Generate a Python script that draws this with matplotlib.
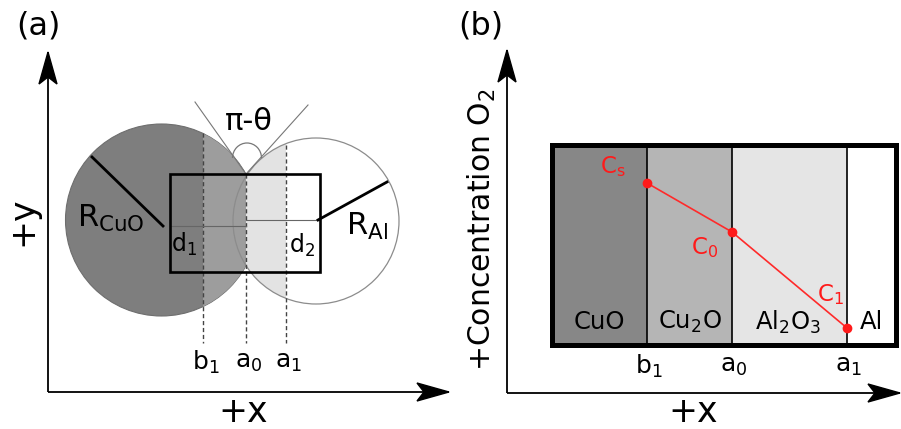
import numpy as np
import matplotlib
matplotlib.use("Agg")
import matplotlib.pyplot as plt
from matplotlib.patches import Circle, Rectangle, Polygon, Arc

plt.rcParams['font.family'] = ['DejaVu Sans']
plt.rcParams['mathtext.default'] = 'regular'

# layer names and their positions (figure pixels)
layers = ['CuO', 'Cu$_2$O', 'Al$_2$O$_3$', 'Al']
layer_colors = ['#878787', '#b5b5b5', '#e5e5e5', '#ffffff']
bounds = ['b$_1$', 'a$_0$', 'a$_1$']
bounds_a = [203, 246, 286]
bounds_b = [647, 732, 847]
conc_b = [183, 232, 328]          # oxygen concentration points (pixel y)
conc_labels = ['C$_s$', 'C$_0$', 'C$_1$']

# particle geometry, panel (a)
cuo_c, cuo_r = (161.5, 220), 96
al_c, al_r = (316, 221), 83
box_a = (170, 174, 320, 272)
box_b = (552, 145, 896, 345)

fig = plt.figure(figsize=(9.01, 4.29), dpi=100)
ax = fig.add_axes([0, 0, 1, 1])
ax.set_xlim(0, 901)
ax.set_ylim(429, 0)
ax.axis('off')


def arrow(x0, y0, x1, y1):
    # axis line with a stealth style head
    ax.plot([x0, x1], [y0, y1], color='black', lw=1.3, solid_capstyle='butt', zorder=5)
    d = np.array([x1 - x0, y1 - y0], float)
    d /= np.hypot(*d)
    n = np.array([-d[1], d[0]])
    tip = np.array([x1, y1])
    base = tip - 32 * d
    pts = [tip, base + 9 * n, tip - 25 * d, base - 9 * n]
    ax.add_patch(Polygon(pts, closed=True, color='black', zorder=6))


# ---------------- panel (a) ----------------
arrow(48, 392, 48, 52)
arrow(48, 392, 449, 392)
ax.text(38, 26, '(a)', fontsize=23, ha='center', va='center')
ax.text(22, 221, '+y', fontsize=25, ha='center', va='center', rotation=90)
ax.text(243, 412, '+x', fontsize=25, ha='center', va='center')

cuo = Circle(cuo_c, cuo_r, facecolor='#7e7e7e', edgecolor='#6e6e6e', lw=0.8, zorder=1)
ax.add_patch(cuo)
al_clip = Circle(al_c, al_r, facecolor='none', edgecolor='none')
ax.add_patch(al_clip)

cu2o = Rectangle((bounds_a[0], 0), bounds_a[1] - bounds_a[0], 429,
                 facecolor='#9d9d9d', edgecolor='none', zorder=2)
ax.add_patch(cu2o)
cu2o.set_clip_path(cuo)
al2o3 = Rectangle((bounds_a[1], 0), bounds_a[2] - bounds_a[1], 429,
                  facecolor='#e3e3e3', edgecolor='none', zorder=2)
ax.add_patch(al2o3)
al2o3.set_clip_path(al_clip)
ax.add_patch(Circle(al_c, al_r, facecolor='none', edgecolor='#8c8c8c', lw=0.9, zorder=3))

# contact angle construction
ax.plot([246, 195], [174, 102], color='#777777', lw=0.8, zorder=3)
ax.plot([246, 308], [174, 105], color='#777777', lw=0.8, zorder=3)
ax.add_patch(Arc((247, 158), 29, 30, theta1=180, theta2=360, color='#777777', lw=0.9, zorder=3))
ax.text(249, 121, 'π-θ', fontsize=22, ha='center', va='center')

# dashed interface lines
for x, top in zip(bounds_a, [133, 174, 145]):
    ax.plot([x, x], [top, 343], color='#444444', lw=1, ls=(0, (3, 2)), zorder=4)
for x, lab in zip(bounds_a, bounds):
    ax.text(x + 3, 362, lab, fontsize=18, ha='center', va='center')

# box and radii
x0, y0, x1, y1 = box_a
ax.add_patch(Rectangle((x0, y0), x1 - x0, y1 - y0, facecolor='none',
                       edgecolor='black', lw=1.9, zorder=5))
ax.plot([x0, 246], [226, 226], color='#666666', lw=0.8, zorder=4)
ax.plot([246, x1], [220, 220], color='#666666', lw=0.8, zorder=4)
ax.plot([92, 163], [157, 226], color='black', lw=2, zorder=5)
ax.plot([318, 387], [220, 182], color='black', lw=2, zorder=5)
ax.text(111, 218, 'R$_{CuO}$', fontsize=22, ha='center', va='center', zorder=6)
ax.text(367, 226, 'R$_{Al}$', fontsize=22, ha='center', va='center', zorder=6)
ax.text(184, 244, 'd$_1$', fontsize=17, ha='center', va='center', zorder=6)
ax.text(302, 245, 'd$_2$', fontsize=17, ha='center', va='center', zorder=6)

# ---------------- panel (b) ----------------
arrow(507, 393, 507, 50)
arrow(507, 393, 900, 393)
ax.text(481, 26, '(b)', fontsize=23, ha='center', va='center')
ax.text(482, 230, '+Concentration O$_2$', fontsize=21.5, ha='center', va='center', rotation=90)
ax.text(693, 412, '+x', fontsize=25, ha='center', va='center')

bx0, by0, bx1, by1 = box_b
edges = [bx0] + bounds_b + [bx1]
for i, (lab, col) in enumerate(zip(layers, layer_colors)):
    ax.add_patch(Rectangle((edges[i], by0), edges[i + 1] - edges[i], by1 - by0,
                           facecolor=col, edgecolor='none', zorder=1))
    ax.text((edges[i] + edges[i + 1]) / 2 + [0, 0, -2, 0][i], 322, lab,
            fontsize=17.5, ha='center', va='center', zorder=4)
for x in bounds_b:
    ax.plot([x, x], [by0, by1], color='black', lw=1.2, zorder=2)
ax.add_patch(Rectangle((bx0, by0), bx1 - bx0, by1 - by0, facecolor='none',
                       edgecolor='black', lw=3.6, zorder=3))
for x, lab in zip(bounds_b, bounds):
    ax.text(x + 2, 366, lab, fontsize=18, ha='center', va='center')

ax.plot(bounds_b, conc_b, color='#ff2a2a', lw=1.2, zorder=5)
ax.plot(bounds_b, conc_b, 'o', color='#ff1a1a', ms=6, zorder=6)
for (dx, dy), lab, x, y in zip([(-34, -16), (-27, 16), (-17, -33)], conc_labels, bounds_b, conc_b):
    ax.text(x + dx, y + dy, lab, fontsize=16.5, color='#ff1a1a', ha='center', va='center', zorder=6)

fig.savefig('out.png', dpi=100)
